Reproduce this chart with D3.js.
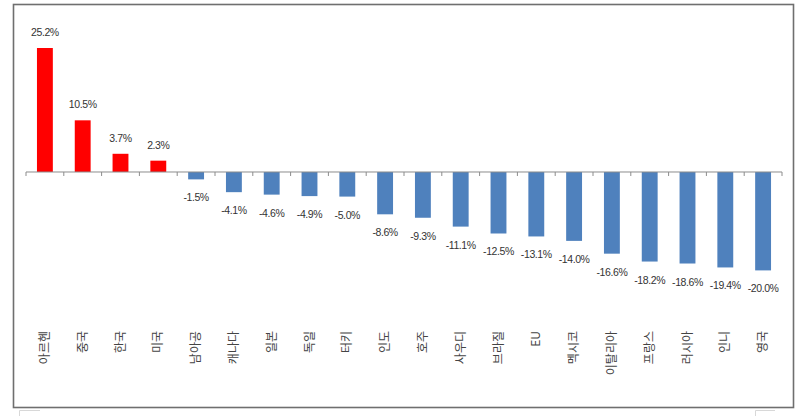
<!DOCTYPE html>
<html>
<head>
<meta charset="utf-8">
<script src="https://cdn.jsdelivr.net/npm/d3@7"></script>
<style>
  body { margin: 0; background: #fff; }
</style>
</head>
<body>
<div id="chart"></div>
<script>
// data
const countries = ["아르헨", "중국", "한국", "미국", "남아공", "캐나다", "일본", "독일", "터키", "인도",
    "호주", "사우디", "브라질", "EU", "멕시코", "이탈리아", "프랑스", "러시아", "인니", "영국"];
const changes = [25.2, 10.5, 3.7, 2.3, -1.5, -4.1, -4.6, -4.9, -5.0, -8.6,
    -9.3, -11.1, -12.5, -13.1, -14.0, -16.6, -18.2, -18.6, -19.4, -20.0];

const W = 800, H = 416;

const svg = d3.select("#chart")
    .append("svg")
    .attr("width", W)
    .attr("height", H);

// outer frame of the chart area
svg.append("rect")
    .attr("x", 13.5).attr("y", 4.5)
    .attr("width", 780).attr("height", 403)
    .attr("fill", "#fff")
    .attr("stroke", "#6f6f6f")
    .attr("stroke-width", 1.6);

// small leftovers of the screenshot below the frame
svg.append("path").attr("d", "M19.5,416 V410.5 H40").attr("fill", "none").attr("stroke", "#d8d8d8");
svg.append("path").attr("d", "M755.5,416 V410.5 H775").attr("fill", "none").attr("stroke", "#d8d8d8");

const x = d3.scaleBand().domain(countries).range([26, 782]).paddingInner(0.58).paddingOuter(0.29);
const y = d3.scaleLinear().domain([-20, 25.2]).range([270.4, 48]);

const data = countries.map((c, i) => ({ name: c, v: changes[i] }));

// bars
svg.selectAll(".bar")
    .data(data)
    .enter().append("rect")
    .attr("class", "bar")
    .attr("x", d => x(d.name))
    .attr("width", x.bandwidth())
    .attr("y", d => d.v > 0 ? y(d.v) : y(0))
    .attr("height", d => Math.abs(y(d.v) - y(0)))
    .attr("fill", d => d.v > 0 ? "#ff0000" : "#4f81bd");

// zero axis with ticks between categories
const step = x.step();
const axisG = svg.append("g").attr("stroke", "#8c8c8c").attr("stroke-width", 1);
axisG.append("line")
    .attr("x1", 26).attr("x2", 782)
    .attr("y1", y(0)).attr("y2", y(0));
axisG.selectAll(".tick")
    .data(d3.range(countries.length + 1))
    .enter().append("line")
    .attr("x1", i => 26 + i * step).attr("x2", i => 26 + i * step)
    .attr("y1", y(0)).attr("y2", y(0) + 4);

// value labels
svg.selectAll(".val")
    .data(data)
    .enter().append("text")
    .attr("class", "val")
    .attr("x", d => x(d.name) + x.bandwidth() / 2)
    .attr("y", d => d.v > 0 ? y(d.v) - 12 : y(d.v) + 22)
    .attr("text-anchor", "middle")
    .style("font-family", "Liberation Sans, Arial, sans-serif")
    .style("font-size", "10.5px")
    .style("letter-spacing", "-0.4px")
    .style("fill", "#333")
    .text(d => d.v.toFixed(1) + "%");

// category labels, rotated
svg.selectAll(".cat")
    .data(data)
    .enter().append("text")
    .attr("class", "cat")
    .attr("transform", d => `translate(${x(d.name) + x.bandwidth() / 2 + 4}, 331) rotate(-90)`)
    .attr("text-anchor", "end")
    .style("font-family", "Noto Sans CJK KR, sans-serif")
    .style("font-size", "12px")
    .style("fill", "#444")
    .text(d => d.name);
</script>
</body>
</html>
